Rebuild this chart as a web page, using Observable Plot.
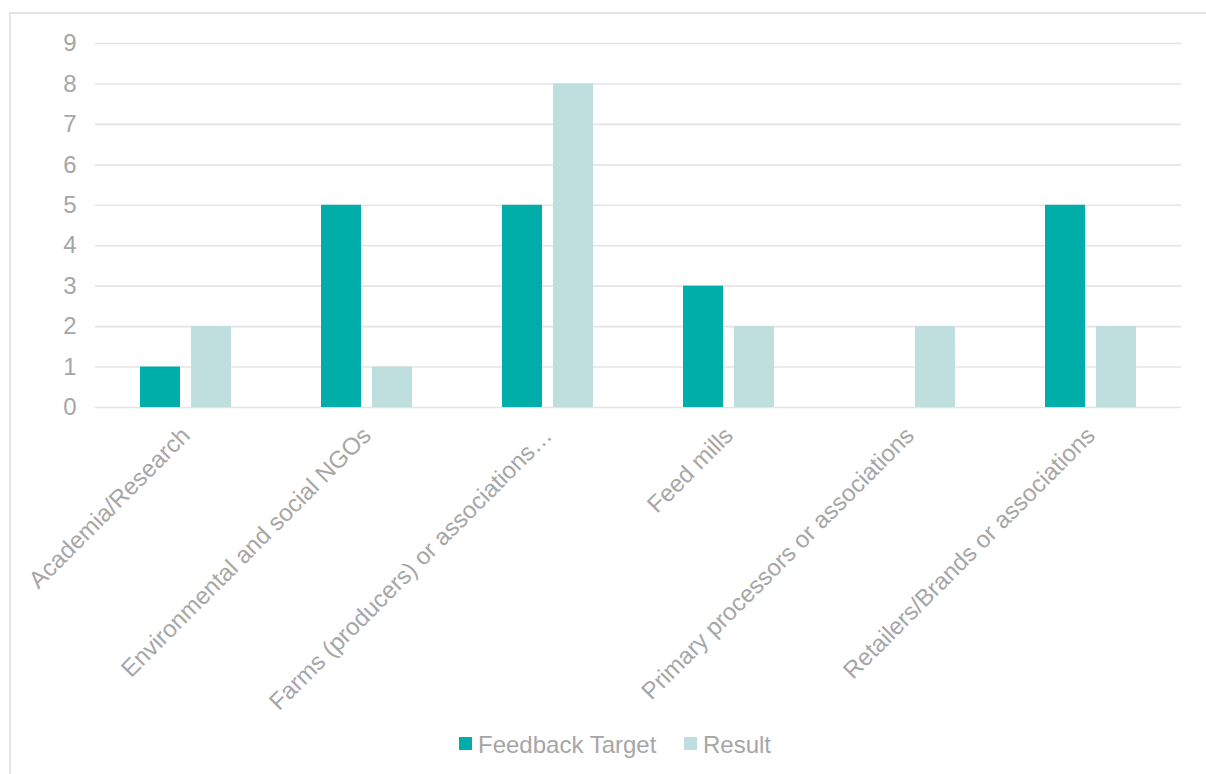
<!DOCTYPE html>
<html>
<head>
<meta charset="utf-8">
<script src="https://cdn.jsdelivr.net/npm/d3@7"></script>
<script src="https://cdn.jsdelivr.net/npm/@observablehq/plot@0.6"></script>
<style>
  html, body { margin: 0; padding: 0; background: #fff; }
  #wrap { position: relative; width: 1206px; height: 774px; overflow: hidden; font-family: "Liberation Sans", Arial, sans-serif; }
  #frame { position: absolute; left: 9px; top: 12px; width: 1230px; height: 820px; border: 2px solid #e4e4e4; box-sizing: border-box; }
  #chart { position: absolute; left: 0; top: 0; }
  .lg { position: absolute; font-size: 24px; line-height: 24px; color: #a6a6a6; white-space: nowrap; }
  .sw { position: absolute; width: 13px; height: 13px; }
</style>
</head>
<body>
<div id="wrap">
  <div id="frame"></div>
  <div id="chart"></div>
  <div id="legend"></div>
</div>
<script>
const categories = [
  "Academia/Research",
  "Environmental and social NGOs",
  "Farms (producers) or associations\u2026",
  "Feed mills",
  "Primary processors or associations",
  "Retailers/Brands or associations"
];
const seriesNames = ["Feedback Target", "Result"];
const feedbackTarget = [1, 5, 5, 3, 0, 5];
const result = [2, 1, 8, 2, 2, 2];
const yTicks = [0, 1, 2, 3, 4, 5, 6, 7, 8, 9];
const colors = ["#00aea9", "#bfdfde"];

const table = [];
categories.forEach((c, i) => {
  table.push({category: c, series: seriesNames[0], value: feedbackTarget[i]});
  table.push({category: c, series: seriesNames[1], value: result[i]});
});

const textColor = "#a6a6a6";

const plot = Plot.plot({
  width: 1206,
  height: 720,
  marginLeft: 95,
  marginRight: 25,
  marginTop: 43,
  marginBottom: 313,
  style: {fontFamily: "'Liberation Sans', Arial, sans-serif", fontSize: "24px", color: textColor, background: "transparent"},
  fx: {domain: categories, padding: 0, label: null, axis: null},
  x: {domain: seriesNames, paddingInner: 0.2157, paddingOuter: 0.8824, axis: null, round: false},
  y: {domain: [0, 9], axis: null, label: null},
  color: {domain: seriesNames, range: colors},
  marks: [
    Plot.gridY(yTicks, {stroke: "#e4e4e4", strokeOpacity: 1, strokeWidth: 1.6}),
    Plot.barY(table, {fx: "category", x: "series", y: "value", fill: "series"}),
    Plot.axisY(yTicks, {anchor: "left", label: null, tickSize: 0, tickPadding: 19, fill: textColor, fontSize: 24, tickFormat: d => String(d)}),
    Plot.axisFx({anchor: "bottom", label: null, tickRotate: -45, tickSize: 0, tickPadding: 24, dx: 0, fill: textColor, fontSize: 24})
  ]
});
document.getElementById("chart").appendChild(plot);

// Legend
const legend = document.getElementById("legend");
const legendItems = [
  {name: seriesNames[0], color: colors[0], sx: 459, tx: 478},
  {name: seriesNames[1], color: colors[1], sx: 684, tx: 703}
];
legendItems.forEach(it => {
  const sw = document.createElement("div");
  sw.className = "sw";
  sw.style.left = it.sx + "px";
  sw.style.top = "737px";
  sw.style.background = it.color;
  legend.appendChild(sw);
  const t = document.createElement("div");
  t.className = "lg";
  t.style.left = it.tx + "px";
  t.style.top = "733px";
  t.textContent = it.name;
  legend.appendChild(t);
});
</script>
</body>
</html>
